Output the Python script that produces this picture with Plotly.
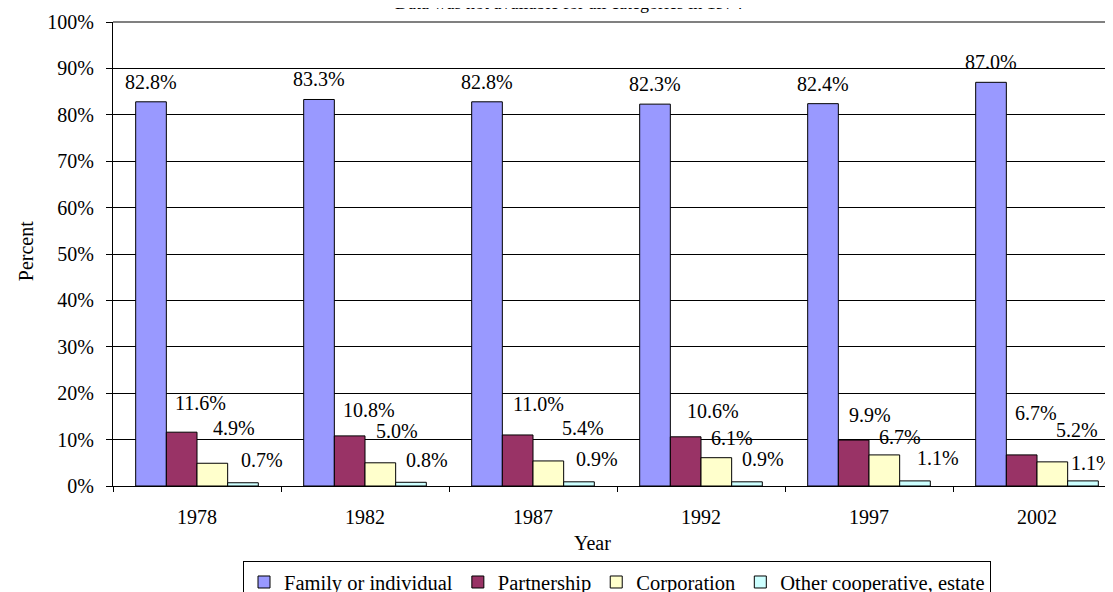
import plotly.graph_objects as go

years = ["1978", "1982", "1987", "1992", "1997", "2002"]
family = [82.8, 83.3, 82.8, 82.3, 82.4, 87.0]
partnership = [11.6, 10.8, 11.0, 10.6, 9.9, 6.7]
corporation = [4.9, 5.0, 5.4, 6.1, 6.7, 5.2]
other = [0.7, 0.8, 0.9, 0.9, 1.1, 1.1]

series_names = ["Family or individual", "Partnership", "Corporation", "Other cooperative, estate"]
series_values = [family, partnership, corporation, other]
colors = ["#9999FF", "#993366", "#FFFFCC", "#CCFFFF"]

# label placement styles (pixel offsets from bar centre / top), imitating the original layout
label_dx = [
    [0, 0, 0, 0, 0, 0],
    [19, 19, 21, 27, 16, 14],
    [22, 17, 35, 16, 16, 25],
    [19, 16, 18, 16, 23, 9],
]
label_dy = [
    [20, 20, 20, 20, 20, 20],
    [29, 26, 31, 26, 25, 42],
    [35, 32, 33, 20, 18, 32],
    [23, 22, 23, 23, 23, 18],
]

FONT = "'Liberation Serif', 'Times New Roman', serif"
FS = 20

L, R, T, B = 105, 0, 14, 114
W, H = 1113, 592
bargap = 0.27
cat_px = (W - L - R) / len(years)
bar_px = cat_px * (1 - bargap) / 4

fig = go.Figure()
for i, (name, vals, col) in enumerate(zip(series_names, series_values, colors)):
    fig.add_trace(go.Bar(
        x=years, y=vals, name=name,
        marker=dict(color=col, line=dict(color="black", width=1)),
    ))

annotations = []
for i, vals in enumerate(series_values):
    offset = (i - 1.5) * bar_px
    for j, v in enumerate(vals):
        annotations.append(dict(
            x=j, y=v, xref="x", yref="y", text=f"{v:.1f}%",
            showarrow=False, xanchor="center", yanchor="middle",
            xshift=offset + label_dx[i][j], yshift=label_dy[i][j],
            font=dict(family=FONT, size=FS, color="black"),
        ))

annotations.append(dict(
    x=0.452, y=1.0, xref="paper", yref="paper", text="Data was not available for all categories in 1974",
    showarrow=False, xanchor="center", yanchor="bottom", yshift=7,
    font=dict(family=FONT, size=18, color="black"),
))
annotations.append(dict(
    x=0.476, y=0, xref="paper", yref="paper", text="Year",
    showarrow=False, xanchor="center", yanchor="middle", yshift=-57,
    font=dict(family=FONT, size=FS, color="black"),
))
annotations.append(dict(
    x=0, y=0.506, xref="paper", yref="paper", text="Percent", textangle=-90,
    showarrow=False, xanchor="center", yanchor="middle", xshift=-87,
    font=dict(family=FONT, size=FS, color="black"),
))

fig.update_layout(
    width=W, height=H,
    margin=dict(l=L, r=R, t=T, b=B, pad=0, autoexpand=False),
    paper_bgcolor="white", plot_bgcolor="white",
    barmode="group", bargap=bargap, bargroupgap=0,
    font=dict(family=FONT, size=FS, color="black"),
    showlegend=True,
    legend=dict(
        orientation="h", x=0.5, xanchor="center", y=-0.162, yanchor="top",
        bordercolor="black", borderwidth=1, bgcolor="white",
        font=dict(family=FONT, size=20.5, color="black"),
        traceorder="normal",
    ),
    annotations=annotations,
    xaxis=dict(
        type="category", range=[-0.5, len(years) - 0.5], showgrid=False,
        showline=True, linecolor="black", linewidth=1,
        ticks="outside", tickson="boundaries", ticklen=5, tickcolor="black",
        ticklabelstandoff=13, tickangle=0, tickfont=dict(family=FONT, size=FS),
    ),
    yaxis=dict(
        range=[0, 100], dtick=10, ticksuffix="%", showgrid=True, gridcolor="black", gridwidth=1,
        showline=True, linecolor="black", linewidth=1, ticks="outside", ticklen=6, tickcolor="black",
        zeroline=False, ticklabelstandoff=8, tickfont=dict(family=FONT, size=FS),
    ),
    shapes=[dict(type="line", xref="paper", yref="paper", x0=0, x1=1, y0=1, y1=1,
                 line=dict(color="#808080", width=2), layer="above")],
)

fig.write_html("out.html")
